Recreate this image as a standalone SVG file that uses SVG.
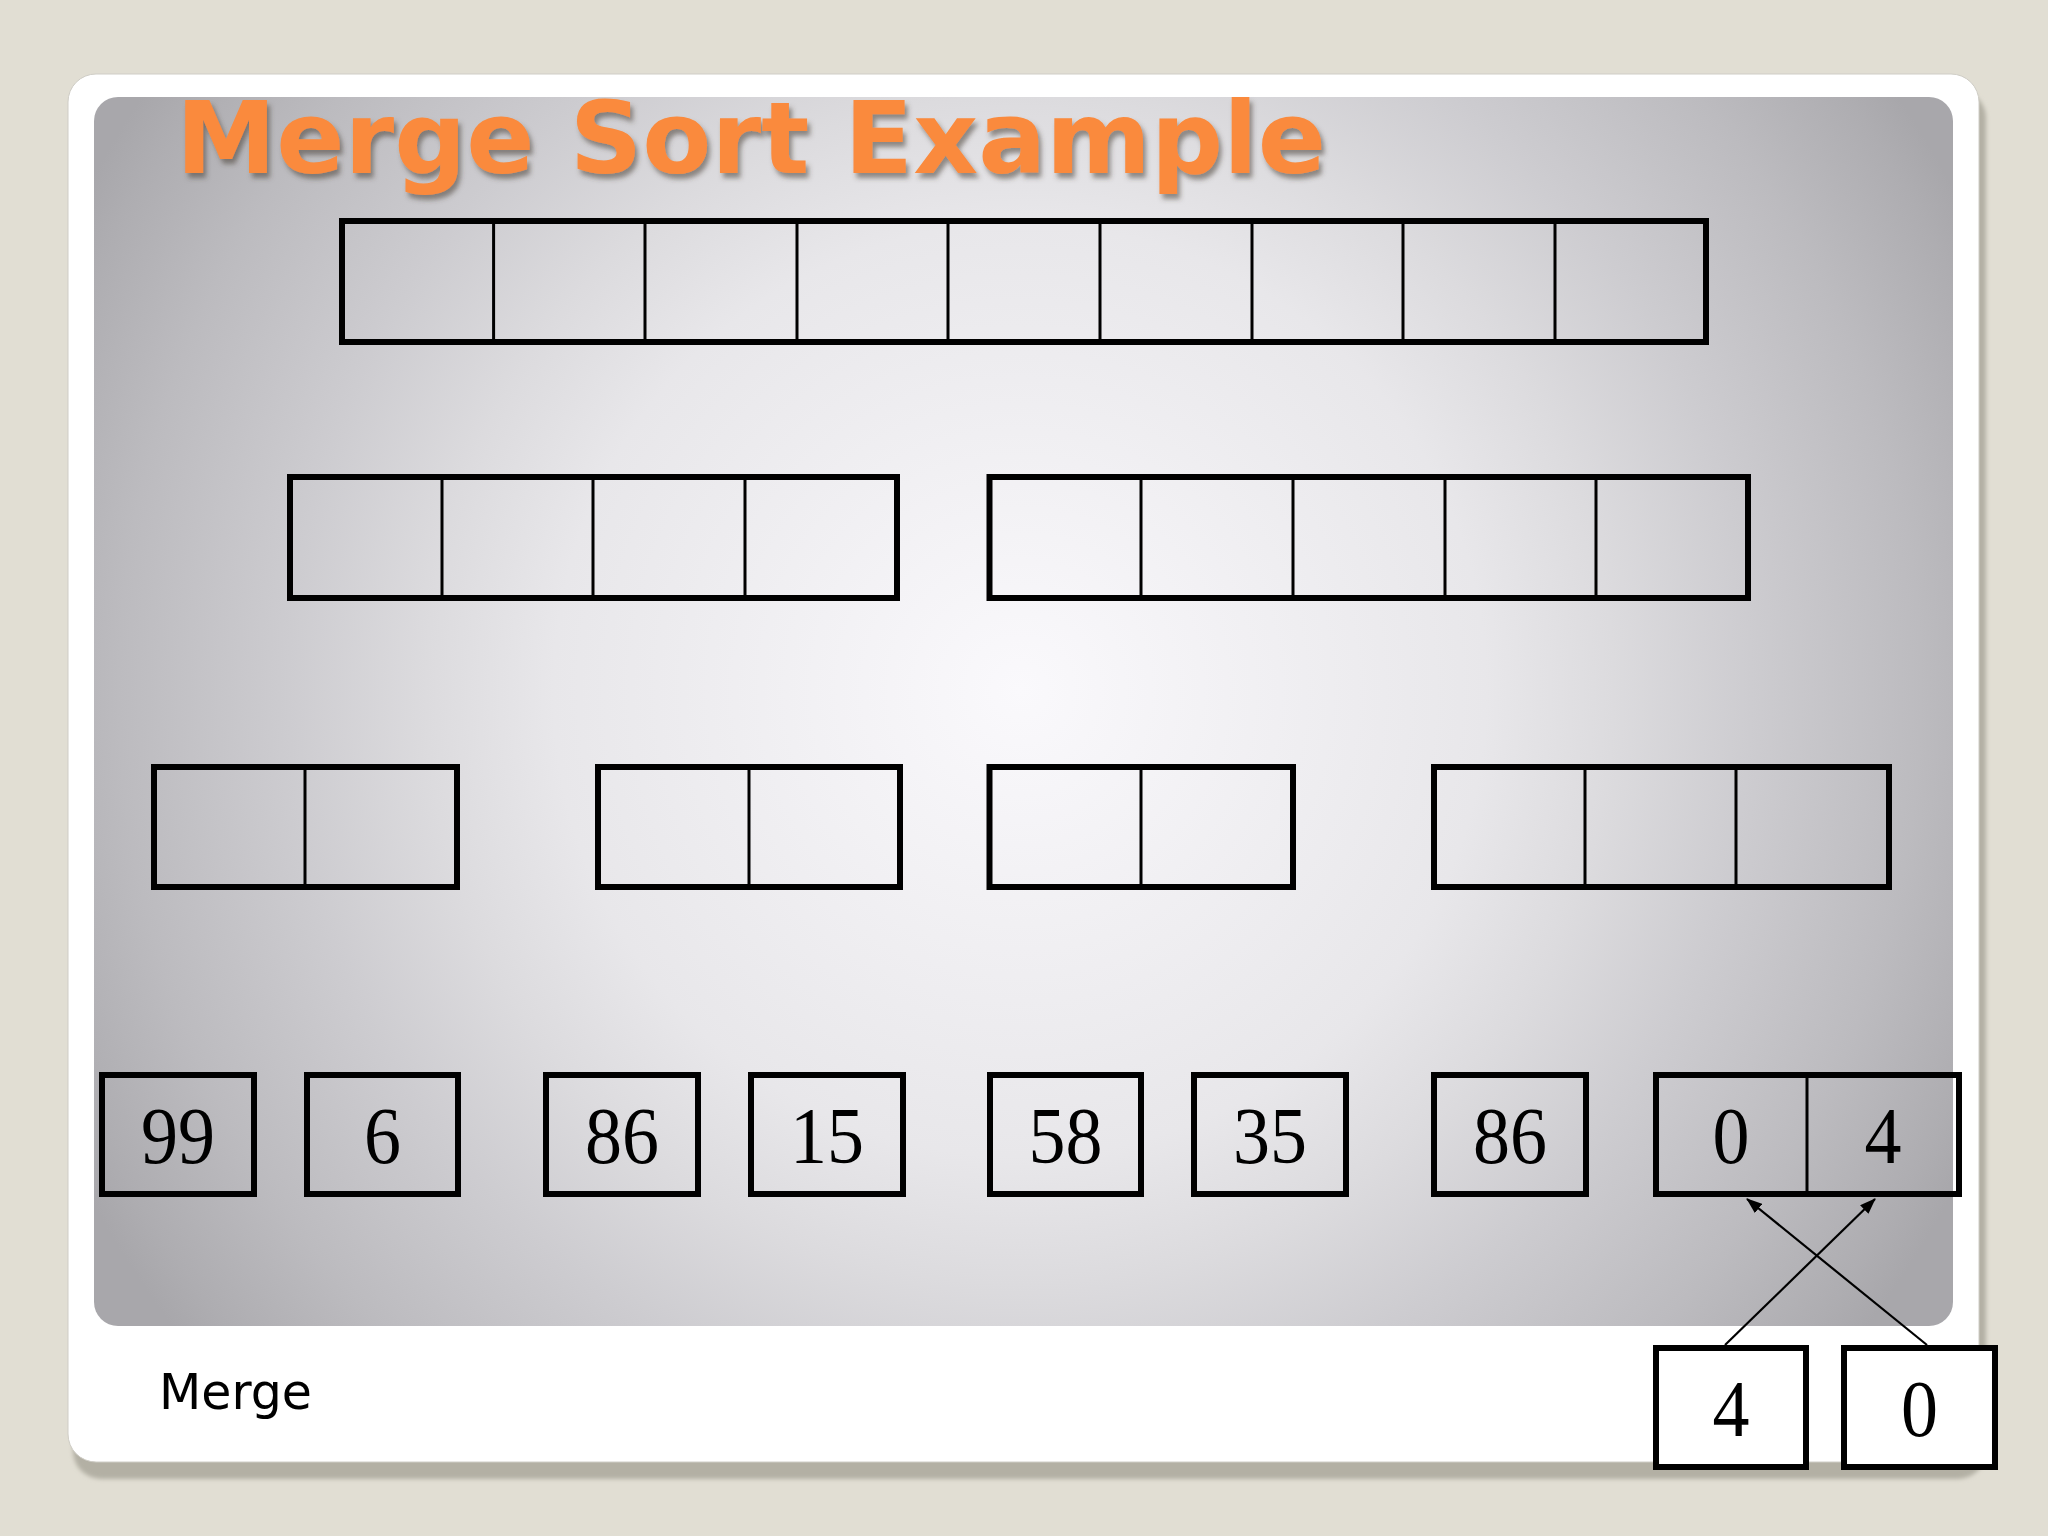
<svg xmlns="http://www.w3.org/2000/svg" width="2048" height="1536" viewBox="0 0 2048 1536">
<style>
.box{fill:none;stroke:#000;stroke-width:6}
.div{stroke:#000;stroke-width:3}
.num{font-family:"Liberation Serif","Times New Roman",serif;font-size:80px;fill:#000;text-anchor:middle}
.conn{stroke:#000;stroke-width:2.2;fill:none;marker-end:url(#arr)}
</style>
<defs>
<radialGradient id="pg" gradientUnits="userSpaceOnUse" cx="1020" cy="690" r="1060">
<stop offset="0" stop-color="#faf9fc"/>
<stop offset="0.44" stop-color="#e8e7ea"/>
<stop offset="0.56" stop-color="#dcdbde"/>
<stop offset="0.69" stop-color="#cdccd0"/>
<stop offset="0.85" stop-color="#bcbbbf"/>
<stop offset="0.96" stop-color="#aeadb1"/>
<stop offset="1" stop-color="#a8a7ab"/>
</radialGradient>
<filter id="ts" x="-5%" y="-20%" width="110%" height="150%">
<feDropShadow dx="3" dy="5" stdDeviation="2.5" flood-color="#4a4038" flood-opacity="0.55"/>
</filter>
<filter id="cs" x="-5%" y="-5%" width="110%" height="110%">
<feGaussianBlur stdDeviation="2"/>
</filter>
<marker id="arr" markerWidth="16" markerHeight="12" refX="15" refY="6" orient="auto" markerUnits="userSpaceOnUse">
<path d="M0,0 L16,6 L0,12 Z" fill="#000"/>
</marker>
</defs>
<rect width="2048" height="1536" fill="#e1ded3"/>
<g id="card">
<rect x="73" y="90" width="1913" height="1389" rx="28" fill="#b3b0a4" filter="url(#cs)"/>
<rect x="68" y="74" width="1911" height="1388" rx="28" fill="#ffffff" stroke="#cfcdc6" stroke-width="1"/>
<rect x="94" y="97" width="1859" height="1229" rx="24" fill="url(#pg)"/>
</g>
<g id="title">
<text x="176" y="173" font-family="DejaVu Sans, Verdana, sans-serif" font-weight="bold" font-size="100" fill="#fa8a3c" filter="url(#ts)" textLength="1150" lengthAdjust="spacingAndGlyphs">Merge Sort Example</text>
</g>
<g id="row1">
<rect class="box" x="342" y="221" width="1364" height="121"/>
<path class="div" d="M493.6,221V342M645,221V342M797,221V342M948,221V342M1100,221V342M1252,221V342M1403,221V342M1555,221V342"/>
</g>
<g id="row2-left">
<rect class="box" x="290" y="477" width="607" height="121"/>
<path class="div" d="M442,477V598M593,477V598M745,477V598"/>
</g>
<g id="row2-right">
<rect class="box" x="989.5" y="477" width="758.5" height="121"/>
<path class="div" d="M1141,477V598M1293,477V598M1445,477V598M1596,477V598"/>
</g>
<g id="row3-a">
<rect class="box" x="154" y="767" width="303" height="120"/>
<path class="div" d="M305,767V887"/>
</g>
<g id="row3-b">
<rect class="box" x="598" y="767" width="302" height="120"/>
<path class="div" d="M749,767V887"/>
</g>
<g id="row3-c">
<rect class="box" x="989.5" y="767" width="303.5" height="120"/>
<path class="div" d="M1141,767V887"/>
</g>
<g id="row3-d">
<rect class="box" x="1434" y="767" width="455" height="120"/>
<path class="div" d="M1585,767V887M1736,767V887"/>
</g>
<g id="leaf-99"><rect class="box" x="102" y="1075" width="152" height="119"/><text class="num" x="178" y="1163" textLength="74" lengthAdjust="spacingAndGlyphs">99</text></g>
<g id="leaf-6"><rect class="box" x="307" y="1075" width="151" height="119"/><text class="num" x="382.5" y="1163" textLength="37" lengthAdjust="spacingAndGlyphs">6</text></g>
<g id="leaf-86a"><rect class="box" x="546" y="1075" width="152" height="119"/><text class="num" x="622" y="1163" textLength="74" lengthAdjust="spacingAndGlyphs">86</text></g>
<g id="leaf-15"><rect class="box" x="751" y="1075" width="152" height="119"/><text class="num" x="827" y="1163" textLength="74" lengthAdjust="spacingAndGlyphs">15</text></g>
<g id="leaf-58"><rect class="box" x="990" y="1075" width="151" height="119"/><text class="num" x="1065.5" y="1163" textLength="74" lengthAdjust="spacingAndGlyphs">58</text></g>
<g id="leaf-35"><rect class="box" x="1194" y="1075" width="152" height="119"/><text class="num" x="1270" y="1163" textLength="74" lengthAdjust="spacingAndGlyphs">35</text></g>
<g id="leaf-86b"><rect class="box" x="1434" y="1075" width="152" height="119"/><text class="num" x="1510" y="1163" textLength="74" lengthAdjust="spacingAndGlyphs">86</text></g>
<g id="merged-04">
<rect class="box" x="1656" y="1075" width="303" height="119"/>
<path class="div" d="M1807,1075V1194"/>
<text class="num" x="1731" y="1163" textLength="37" lengthAdjust="spacingAndGlyphs">0</text>
<text class="num" x="1883" y="1163" textLength="37" lengthAdjust="spacingAndGlyphs">4</text>
</g>
<g id="input-4"><rect class="box" x="1656" y="1348" width="150" height="119" fill="#fff" style="fill:#fff"/><text class="num" x="1731" y="1436" textLength="37" lengthAdjust="spacingAndGlyphs">4</text></g>
<g id="input-0"><rect class="box" x="1844" y="1348" width="151" height="119" style="fill:#fff"/><text class="num" x="1919.5" y="1436" textLength="37" lengthAdjust="spacingAndGlyphs">0</text></g>
<g id="connectors">
<line class="conn" x1="1725" y1="1345" x2="1875" y2="1199"/>
<line class="conn" x1="1927" y1="1345" x2="1747" y2="1199"/>
</g>
<g id="caption">
<text x="159" y="1409" font-family="DejaVu Sans, Verdana, sans-serif" font-size="49" fill="#000">Merge</text>
</g>
</svg>
